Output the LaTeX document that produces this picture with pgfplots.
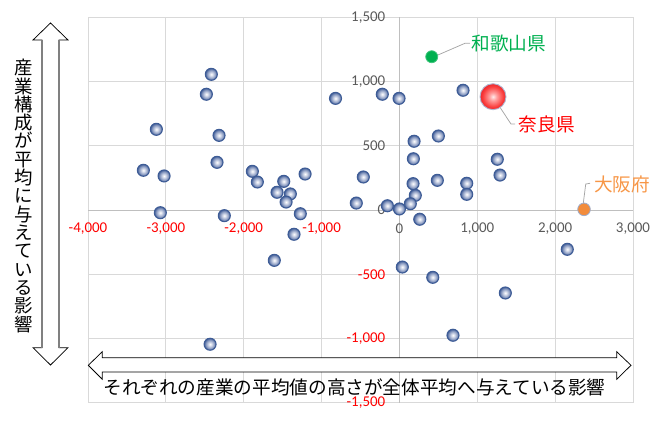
\documentclass[border=0pt]{standalone}
\usepackage{pgfplots}
\pgfplotsset{compat=1.18}
\usepackage{fontspec}
\setmainfont{Carlito}
\newfontfamily\jp{Noto Sans CJK JP}

\definecolor{dotedge}{RGB}{62,92,150}
\definecolor{dotmid}{RGB}{118,138,182}
\definecolor{dotlight}{RGB}{205,212,230}
\definecolor{rcenter}{RGB}{255,235,235}
\definecolor{rlight}{RGB}{255,160,160}
\definecolor{rmid}{RGB}{250,60,60}
\definecolor{redge}{RGB}{235,40,45}
\definecolor{jgreen}{RGB}{0,176,80}
\definecolor{jorange}{RGB}{242,140,60}
\definecolor{torange}{RGB}{247,150,70}
\definecolor{tickgray}{RGB}{89,89,89}
\definecolor{gridgray}{RGB}{217,217,217}
\definecolor{axisgray}{RGB}{191,191,191}
\definecolor{leader}{RGB}{166,166,166}

\pgfdeclareradialshading{bdot}{\pgfpoint{0bp}{0bp}}{color(0bp)=(white); color(8bp)=(dotlight); color(20bp)=(dotmid); color(25bp)=(dotedge); color(50bp)=(dotedge)}
\pgfdeclareradialshading{rdot}{\pgfpoint{0bp}{0bp}}{color(0bp)=(rcenter); color(7bp)=(rlight); color(20bp)=(rmid); color(25bp)=(redge); color(50bp)=(redge)}

\pgfdeclareplotmark{bdot}{%
  \pgfpathcircle{\pgfpointorigin}{\pgfplotmarksize}%
  \pgfshadepath{bdot}{0}%
  \pgfusepath{}%
  \pgfpathcircle{\pgfpointorigin}{\pgfplotmarksize}%
  \pgfusepath{stroke}%
}
\pgfdeclareplotmark{rdot}{%
  \pgfpathcircle{\pgfpointorigin}{\pgfplotmarksize}%
  \pgfshadepath{rdot}{0}%
  \pgfusepath{}%
  \pgfpathcircle{\pgfpointorigin}{\pgfplotmarksize}%
  \pgfusepath{stroke}%
}

\pgfplotstableread{
x y
-2416 1056
-2480 901
-3122 628
-2317 581
-2343 371
-3289 309
-3023 265
-1889 301
-1825 218
-1486 223
-1212 280
-1572 138
-1401 125
-1456 62
-3071 -21
-2249 -44
-1273 -29
-1354 -189
-1607 -392
-2432 -1045
-821 869
-220 901
-5 869
817 932
500 576
188 535
179 399
-464 257
1257 395
1292 272
175 205
487 231
864 208
864 122
204 114
-554 54
-155 33
0 8
140 49
261 -72
2156 -306
37 -444
428 -524
1360 -646
688 -975
}\others

\begin{document}
\begin{tikzpicture}
\path[use as bounding box] (0,0) rectangle (671bp,422bp);
\begin{axis}[
  at={(88bp,19.3bp)}, anchor=south west,
  scale only axis, width=545bp, height=385.4bp,
  xmin=-4000, xmax=3000, ymin=-1500, ymax=1500,
  axis lines=middle,
  axis line style={draw=axisgray, line width=0.75bp, -},
  grid=major, grid style={draw=gridgray, line width=0.75bp},
  major tick length=0pt,
  xtick={-4000,-3000,-2000,-1000,0,1000,2000,3000},
  ytick={-1500,-1000,-500,0,500,1000,1500},
  xticklabels={{\color{red}-4,000},{\color{red}-3,000},{\color{red}-2,000},{\color{red}-1,000},{0},{1,000},{2,000},{3,000}},
  yticklabels={{\color{red}-1,500},{\color{red}-1,000},{\color{red}-500},{0},{500},{1,000},{1,500}},
  hide obscured x ticks=false, hide obscured y ticks=false,
  xticklabel style={anchor=center, yshift=-19bp, inner sep=0pt, text=tickgray, font=\fontsize{15}{15}\selectfont},
  yticklabel style={anchor=east, xshift=-14bp, inner sep=0pt, text=tickgray, font=\fontsize{15}{15}\selectfont},
  clip=false,
  /pgf/number format/assume math mode=true,
]
\addplot[only marks, mark=bdot, mark size=6bp, mark options={draw=dotedge, line width=1.1bp}] table[x=x,y=y] {\others};
\addplot[only marks, mark=*, mark size=6bp, mark options={fill=jgreen, draw=jgreen!75!white, line width=0.8bp}] coordinates {(415,1193)};
\addplot[only marks, mark=*, mark size=6.3bp, mark options={fill=jorange, draw=dotmid!70!white, line width=0.8bp}] coordinates {(2371,5)};
\addplot[only marks, mark=rdot, mark size=13bp, mark options={draw=dotmid!60!white, line width=0.9bp}] coordinates {(1202,882)};

\draw[leader, line width=0.75bp] (axis cs:470,1200) -- (axis cs:843,1298) -- (axis cs:907,1298);
\node[anchor=west, inner sep=0pt, text=jgreen, font=\jp\fontsize{18.7}{20}\selectfont] at (axis cs:925,1298) {和歌山県};
\draw[leader, line width=0.75bp] (axis cs:1211,874) -- (axis cs:1433,669) -- (axis cs:1485,669);
\node[anchor=west, inner sep=0pt, text=red, font=\jp\fontsize{18.7}{20}\selectfont] at (axis cs:1530,664) {奈良県};
\draw[leader, line width=0.75bp] (axis cs:2362,55) -- (axis cs:2393,202) -- (axis cs:2448,208);
\node[anchor=west, inner sep=0pt, text=torange, font=\jp\fontsize{18.7}{20}\selectfont] at (axis cs:2500,195) {大阪府};
\end{axis}

% vertical label arrow
\draw[fill=white, line width=0.75bp] (50.5bp,399bp) -- (68bp,382bp) -- (59bp,382bp) -- (59bp,74.3bp) -- (68bp,74.3bp) -- (50.5bp,57bp) -- (33bp,74.3bp) -- (42bp,74.3bp) -- (42bp,382bp) -- (33bp,382bp) -- cycle;
\draw[gray, line width=2bp] (42bp,382bp) -- (42bp,74.3bp) (59bp,382bp) -- (59bp,74.3bp);
\node[font=\jp\fontsize{18.5}{18.4}\selectfont, align=center, inner sep=0pt] at (23.5bp,226bp) {産\\業\\構\\成\\が\\平\\均\\に\\与\\え\\て\\い\\る\\影\\響};

% horizontal label arrow
\draw[fill=white, line width=0.75bp] (88.3bp,56.7bp) -- (102.3bp,70.3bp) -- (102.3bp,64.3bp) -- (616.7bp,64.3bp) -- (616.7bp,70.3bp) -- (631bp,56.7bp) -- (616.7bp,42.7bp) -- (616.7bp,50bp) -- (102.3bp,50bp) -- (102.3bp,42.7bp) -- cycle;
\node[font=\jp\fontsize{18.7}{20}\selectfont, inner sep=0pt] at (354.5bp,34.3bp) {それぞれの産業の平均値の高さが全体平均へ与えている影響};
\end{tikzpicture}
\end{document}
